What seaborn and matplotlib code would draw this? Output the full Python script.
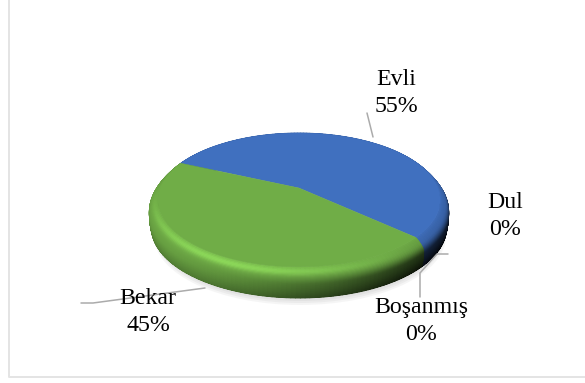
import numpy as np
import matplotlib
matplotlib.use("Agg")
import matplotlib.pyplot as plt
from matplotlib.collections import PolyCollection
from matplotlib.patches import Ellipse
import seaborn as sns

labels = ["Evli", "Bekar", "Boşanmış", "Dul"]
values = [55, 45, 0, 0]
colors = ["#4070BF", "#70AD47", "#A5A5A5", "#FFC000"]

sns.set_theme(style="white")
plt.rcParams["font.family"] = ["Liberation Serif", "DejaVu Serif"]

fig = plt.figure(figsize=(5.85, 3.83), dpi=100)
ax = fig.add_axes([0, 0, 1, 1])
ax.set_xlim(0, 585)
ax.set_ylim(383, 0)
ax.axis("off")

# chart frame, only left and bottom show
ax.plot([9, 9, 585], [0, 377, 377], color="#E4E4E4", lw=1.4)

# perspective disc
cx, cy = 299, 188
k = 0.189
A, B = 147, 68.6
depth = 27


def project(r, th, drop):
    u, v = r * np.cos(th), r * np.sin(th)
    w = 1 - k * v
    return cx + A * u / w, cy + B * v / w + drop


# soft shadow under the pie
for grow, alpha in zip([6, 4, 2, 0], [0.25, 0.35, 0.5, 0.7]):
    ax.add_patch(Ellipse((cx + 1, 236), 2 * (140 + grow), 2 * (63 + grow),
                         fc="#DADADA", ec="none", alpha=alpha))


def profile(s):
    # radius and drop going from the top face over the bevel down the side
    r = 0.945 + 0.055 * np.sin(np.clip(s / 0.4, 0, 1) * np.pi / 2)
    r = r - 0.015 * np.clip((s - 0.4) / 0.6, 0, 1) ** 2
    return r, depth * s


def shade(s, th):
    light = max(0.0, np.cos(th - np.radians(118))) ** 2
    back = max(0.0, -np.sin(th))
    bump = np.exp(-((s - 0.1) / 0.09) ** 2)
    side = 0.48 + 0.22 * light + 0.32 * max(0.0, -np.cos(th)) - 0.26 * max(0.0, np.cos(th))
    fall = np.clip((s - 0.08) / 0.4, 0, 1)
    fall = fall * fall * (3 - 2 * fall)
    lit = 1 + 0.25 * light * bump - 0.1 * (1 - light) * bump
    lit = lit * (1 - fall) + side * fall
    lit = lit - 0.2 * np.clip((s - 0.45) / 0.55, 0, 1)
    return lit * (1 - 0.1 * back * (s > 0))


# slice angles from the values, screen clockwise
start = np.radians(-155.8)
edges = start + np.cumsum([0] + values) / sum(values) * 2 * np.pi

steps = np.linspace(0, 1, 40)
polys, cols = [], []
for i in range(len(values)):
    if values[i] == 0:
        continue
    base = np.array(matplotlib.colors.to_rgb(colors[i]))
    n = max(2, int(np.degrees(edges[i + 1] - edges[i]) / 1.5))
    ths = np.linspace(edges[i], edges[i + 1], n)
    for j in range(len(steps) - 1, 0, -1):
        s0, s1 = steps[j - 1], steps[j]
        r0, d0 = profile(s0)
        r1, d1 = profile(s1)
        for a, b in zip(ths[:-1], ths[1:]):
            pts = [project(r0, a, d0), project(r0, b, d0), project(r1, b, d1), project(r1, a, d1)]
            polys.append(pts)
            cols.append(np.clip(base * shade(s1, (a + b) / 2), 0, 1))
ax.add_collection(PolyCollection(polys, facecolors=cols, edgecolors=cols, linewidths=0.6))

# flat top face
for i in range(len(values)):
    if values[i] == 0:
        continue
    ths = np.linspace(edges[i], edges[i + 1], 200)
    x, y = project(profile(0)[0], ths, 0)
    ax.fill(np.r_[cx, x], np.r_[cy, y], color=colors[i], lw=0.3)

# leader lines
line_c = "#ABABAB"
ax.plot([367, 373], [113, 137], color=line_c, lw=1.1)
ax.plot([81, 93, 205], [303, 303, 288], color=line_c, lw=1.1)
ax.plot([420, 420, 437, 448], [297, 273, 254, 254], color=line_c, lw=1.1)

# data labels
positions = [(396, 93), (148, 312), (421, 321), (505, 216)]
for name, val, (px, py) in zip(labels, values, positions):
    ax.text(px, py, f"{name}\n{val}%", ha="center", va="center", fontsize=17.2,
            linespacing=1.35, color="#000000")

fig.savefig("out.png", dpi=100)
